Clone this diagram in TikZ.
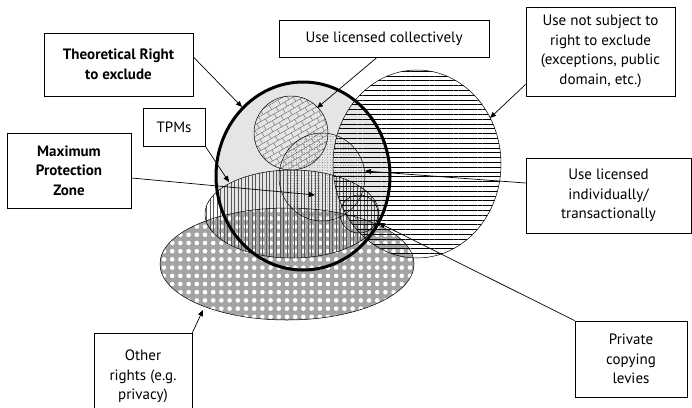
\documentclass[tikz,border=0pt]{standalone}
\usepackage{fontspec}
\setmainfont{PT Sans}
\usetikzlibrary{patterns.meta,arrows.meta,calc}
\begin{document}
\begin{tikzpicture}[x=1pt,y=-1pt,
  box/.style={draw,fill=white,line width=0.8pt,align=center,inner sep=2pt,font=\fontsize{15}{19.5}\selectfont},
  boldbox/.style={box,font=\fontsize{15}{19.5}\selectfont\bfseries},
  arr/.style={line width=0.7pt,-{Triangle[length=6pt,width=5pt]}},
  outl/.style={line width=0.5pt}]
\useasboundingbox (0,0) rectangle (692,407);
\clip (0,0) rectangle (692,407);
% fills
\fill[black!10] (303,176) ellipse [x radius=87, y radius=94];
\fill[black!36] (287,264) ellipse [x radius=127, y radius=56];
\fill[pattern={Dots[radius=2.3pt,distance=8.2pt]},pattern color=white] (287,264) ellipse [x radius=127, y radius=56];
\fill[pattern={Lines[angle=90,distance=3.5pt,line width=0.4pt]},pattern color=black!65] (292,214) ellipse [x radius=87, y radius=44];
\fill[pattern={Lines[angle=0,distance=4.8pt,line width=0.55pt]}] (417,164) ellipse [x radius=84, y radius=94];
\fill[pattern={Dots[radius=0.35pt,distance=2.6pt]},pattern color=black!80] (322,177) ellipse [x radius=43, y radius=44];
% bricks
\begin{scope}
  \clip (291,133) circle [radius=37];
  \begin{scope}[rotate around={30:(291,133)}]
    \foreach \i in {-9,...,8} {
      \draw[line width=0.4pt,black!60] (241,133+\i*5) -- (341,133+\i*5);
      \pgfmathsetmacro\off{mod(\i+20,2)*5}
      \foreach \j in {-5,...,5} {
        \draw[line width=0.4pt,black!60] (291+\j*10+\off,133+\i*5) -- ++(0,5);
      }
    }
  \end{scope}
\end{scope}
% outlines
\draw[outl] (287,264) ellipse [x radius=127, y radius=56];
\draw[outl] (292,214) ellipse [x radius=87, y radius=44];
\draw[outl] (417,164) ellipse [x radius=84, y radius=94];
\draw[outl] (322,177) ellipse [x radius=43, y radius=44];
\draw[outl] (291,133) circle [radius=37];
\draw[outl] (359,214) circle [radius=19];
\draw[line width=3pt] (303,176) ellipse [x radius=87, y radius=94];
% target points
\coordinate (ttheo) at (242,107);
\coordinate (tcoll) at (317,108);
\coordinate (tnot) at (490,118);
\coordinate (ttpm) at (229,182);
\coordinate (tmax) at (315,195);
\coordinate (tind) at (365,171);
\coordinate (tpriv) at (379,223);
\coordinate (tother) at (203,310);
% boxes
\node[boldbox,minimum width=149pt,minimum height=63pt] (theo) at (118.5,64.5) {Theoretical Right\\to exclude};
\node[box,minimum width=62pt,minimum height=38pt] (tpms) at (174,127) {TPMs};
\node[boldbox,minimum width=124pt,minimum height=75pt] (maxp) at (69,170.5) {Maximum\\Protection\\Zone};
\node[box,minimum width=210pt,minimum height=37pt] (coll) at (384,38.5) {Use licensed collectively};
\node[box,minimum width=149pt,minimum height=89pt] (notsub) at (600.5,51.5) {Use not subject to\\right to exclude\\(exceptions, public\\domain, etc.)};
\node[box,minimum width=165pt,minimum height=75pt] (indiv) at (608.5,195.5) {Use licensed\\individually/\\transactionally};
\node[box,minimum width=112pt,minimum height=76pt] (priv) at (631,359) {Private\\copying\\levies};
\node[box,minimum width=98pt,minimum height=87pt] (other) at (143,376.5) {\raisebox{7pt}{\begin{tabular}{@{}c@{}}Other\\rights (e.g.\\privacy)\end{tabular}}};
% connectors
\draw[arr] ([yshift=7.5pt]theo.east) -- (ttheo);
\draw[arr] ([xshift=-7pt]coll.south) -- (tcoll);
\draw[arr] ([yshift=12pt]notsub.south west) -- (tnot);
\draw[arr] (tpms.south east) -- (ttpm);
\draw[arr] ([yshift=-7.5pt]maxp.east) -- (tmax);
\draw[arr] ([yshift=12.5pt]indiv.west) -- (tind);
\draw[arr] (priv.north west) -- (tpriv);
\draw[arr] (other.north east) -- (tother);
\end{tikzpicture}
\end{document}
